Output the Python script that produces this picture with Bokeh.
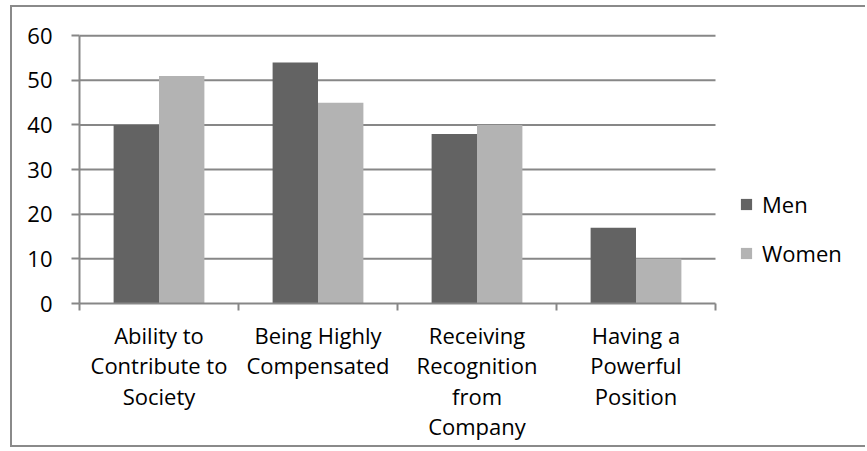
from bokeh.plotting import figure
from bokeh.models import Range1d, FixedTicker, Legend, LegendItem
from bokeh.embed import file_html
from bokeh.resources import INLINE
import numpy as np

# --- data ---------------------------------------------------------------
categories = ["Ability to Contribute to Society",
              "Being Highly Compensated",
              "Receiving Recognition from Company",
              "Having a Powerful Position"]
wrapped_labels = ["Ability to\nContribute to\nSociety",
                  "Being Highly\nCompensated",
                  "Receiving\nRecognition\nfrom\nCompany",
                  "Having a\nPowerful\nPosition"]
series_names = ["Men", "Women"]
men = [40, 54, 38, 17]
women = [51, 45, 40, 10]
y_ticks = [0, 10, 20, 30, 40, 50, 60]

FONT = "Open Sans"
FONT_SIZE = "22px"
GRID = "#878787"
MEN_COLOR = "#636363"
WOMEN_COLOR = "#b3b3b3"

n = len(categories)
centers = np.arange(n) + 0.5
bar_w = 0.2855

# layout: the frame runs to the right edge so the legend can sit beside the
# bars; the category axis and grid lines stop after the last category
LEFT, PLOT_W, FRAME_W = 67, 636, 788
x_end = n * FRAME_W / PLOT_W

p = figure(width=855, height=442, output_backend="svg", toolbar_location=None,
           x_range=Range1d(0, x_end), y_range=Range1d(0, 60.5),
           min_border_left=LEFT, min_border_top=26, min_border_right=0,
           min_border_bottom=146)
p.styles = {"margin-left": "10px", "margin-top": "5px",
            "border-left": "2px solid #8a8a8a",
            "border-top": "2px solid #8a8a8a",
            "border-bottom": "2px solid #8a8a8a"}
p.outline_line_color = None
p.background_fill_color = "white"
p.border_fill_color = "white"
p.xgrid.grid_line_color = None
p.ygrid.grid_line_color = None

# horizontal grid lines over the category span
grid_y = y_ticks[1:]
p.segment(x0=[0] * len(grid_y), x1=[n] * len(grid_y), y0=grid_y, y1=grid_y,
          line_color=GRID, line_width=2)

r_men = p.vbar(x=centers - bar_w / 2, top=men, width=bar_w,
               fill_color=MEN_COLOR, line_color=None)
r_women = p.vbar(x=centers + bar_w / 2, top=women, width=bar_w,
                 fill_color=WOMEN_COLOR, line_color=None)

# y axis
p.yaxis.ticker = FixedTicker(ticks=y_ticks)
p.yaxis.bounds = (0, 60)
p.yaxis.axis_line_color = GRID
p.yaxis.axis_line_width = 2
p.yaxis.major_tick_line_color = GRID
p.yaxis.major_tick_line_width = 2
p.yaxis.major_tick_out = 8
p.yaxis.major_tick_in = 0
p.yaxis.minor_tick_line_color = None
p.yaxis.major_label_text_font = FONT
p.yaxis.major_label_text_font_size = FONT_SIZE
p.yaxis.major_label_text_color = "black"
p.yaxis.major_label_standoff = 19

# x axis: labels at category centres, ticks on category boundaries
p.xaxis.ticker = FixedTicker(ticks=list(centers), minor_ticks=list(range(n + 1)))
p.xaxis.bounds = (0, n)
p.xaxis.major_label_overrides = {float(c): lab for c, lab in zip(centers, wrapped_labels)}
p.xaxis.axis_line_color = GRID
p.xaxis.axis_line_width = 2
p.xaxis.major_tick_line_color = None
p.xaxis.major_tick_out = 0
p.xaxis.major_tick_in = 0
p.xaxis.minor_tick_line_color = GRID
p.xaxis.minor_tick_line_width = 2
p.xaxis.minor_tick_out = 7
p.xaxis.minor_tick_in = 0
p.xaxis.major_label_text_font = FONT
p.xaxis.major_label_text_font_size = FONT_SIZE
p.xaxis.major_label_text_color = "black"
p.xaxis.major_label_text_line_height = 1.02
p.xaxis.major_label_standoff = 9

legend = Legend(items=[LegendItem(label=series_names[0], renderers=[r_men]),
                       LegendItem(label=series_names[1], renderers=[r_women])],
                location=(660, 35))
legend.border_line_color = None
legend.background_fill_alpha = 0
legend.padding = 0
legend.margin = 0
legend.glyph_width = 14
legend.glyph_height = 14
legend.label_standoff = 9
legend.spacing = 19
legend.label_text_font = FONT
legend.label_text_font_size = FONT_SIZE
legend.label_text_color = "black"
p.add_layout(legend)

open("out.html", "w").write(file_html(p, INLINE))
